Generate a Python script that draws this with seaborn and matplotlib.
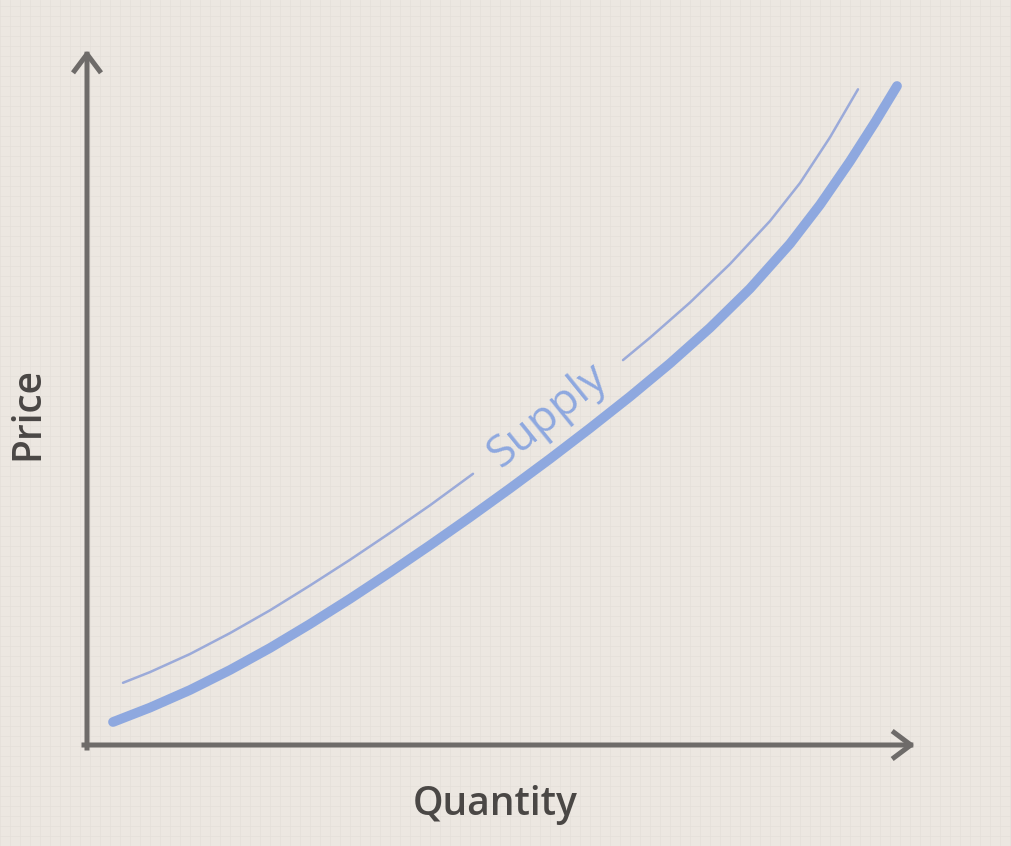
import numpy as np
import pandas as pd
import matplotlib.pyplot as plt
import seaborn as sns

# supply curve (thick)
supply_q = [2.6, 6.3, 10.3, 14.3, 18.3, 22.3, 26.3, 30.3, 34.3, 38.3, 42.3,
            46.3, 50.3, 54.3, 58.3, 62.3, 66.3, 70.3, 73.3, 76.3, 78.8, 81.0]
supply_p = [2.3, 3.74, 5.5, 7.5, 9.7, 12.1, 14.62, 17.26, 19.98, 22.78, 25.66,
            28.62, 31.68, 34.84, 38.16, 41.72, 45.64, 50.12, 54.02, 58.37, 62.27, 65.9]

# thin guide line above the curve, split around the label
guide_q_low = [3.6, 6.3, 10.3, 14.3, 18.3, 22.3, 26.3, 30.3, 34.3, 38.6]
guide_p_low = [6.22, 7.29, 9.1, 11.19, 13.47, 15.95, 18.52, 21.21, 23.97, 27.12]
guide_q_high = [53.6, 56.3, 60.3, 64.3, 68.3, 71.3, 74.3, 77.1]
guide_p_high = [38.49, 40.73, 44.25, 48.1, 52.4, 56.2, 60.77, 65.57]

label_text = "Supply"
x_label = "Quantity"
y_label = "Price"

# 1. STYLE
sns.set_style("white")
plt.rcParams['font.family'] = ['Open Sans', 'DejaVu Sans']

bg = '#ECE7E1'
axis_col = '#6E6B69'
line_col = '#8EA8DF'
thin_col = '#9BAAD9'
text_col = '#4A4745'

fig = plt.figure(figsize=(10.12, 8.46), dpi=100, facecolor=bg)

# faint graph-paper background
bg_ax = fig.add_axes([0, 0, 1, 1], zorder=0)
bg_ax.set_facecolor(bg)
bg_ax.set_xlim(0, 1012)
bg_ax.set_ylim(0, 846)
for v in np.arange(0, 1013, 10):
    bg_ax.axvline(v, color='#E5E0DA', lw=0.6)
for h in np.arange(0, 847, 10):
    bg_ax.axhline(h, color='#E5E0DA', lw=0.6)
bg_ax.axis('off')

# 2. MAIN AXES
ax = fig.add_axes([87 / 1012, 101 / 846, 828 / 1012, 695 / 846], zorder=1)
ax.patch.set_alpha(0)
ax.set_xlim(0, 82.8)
ax.set_ylim(0, 69.5)
for s in ax.spines.values():
    s.set_visible(False)
ax.set_xticks([])
ax.set_yticks([])

arrow = dict(arrowstyle='->,head_length=1.2,head_width=0.9', lw=3.6,
             color=axis_col, shrinkA=0, shrinkB=0, capstyle='projecting')
ax.annotate('', xy=(0, 69.5), xytext=(0, -0.3), arrowprops=arrow,
            annotation_clip=False)
ax.annotate('', xy=(82.8, 0), xytext=(-0.3, 0), arrowprops=arrow,
            annotation_clip=False)

sns.lineplot(x=supply_q, y=supply_p, ax=ax, color=line_col, linewidth=7,
             solid_capstyle='round', solid_joinstyle='round')
sns.lineplot(x=guide_q_low, y=guide_p_low, ax=ax, color=thin_col, linewidth=1.8,
             solid_capstyle='round', solid_joinstyle='round')
sns.lineplot(x=guide_q_high, y=guide_p_high, ax=ax, color=thin_col, linewidth=1.8,
             solid_capstyle='round', solid_joinstyle='round')

ax.text(46.1, 32.9, label_text, color=line_col, fontsize=32, rotation=39,
        fontweight='medium', rotation_mode='anchor', ha='center', va='center')

fig.text(495 / 1012, 1 - 805 / 846, x_label, color=text_col, fontsize=28,
         fontweight='semibold', ha='center', va='center')
fig.text(28 / 1012, 1 - 413 / 846, y_label, color=text_col, fontsize=28,
         fontweight='semibold', ha='center', va='center', rotation=90)

fig.savefig('out.png', dpi=100, facecolor=bg)
plt.close(fig)
